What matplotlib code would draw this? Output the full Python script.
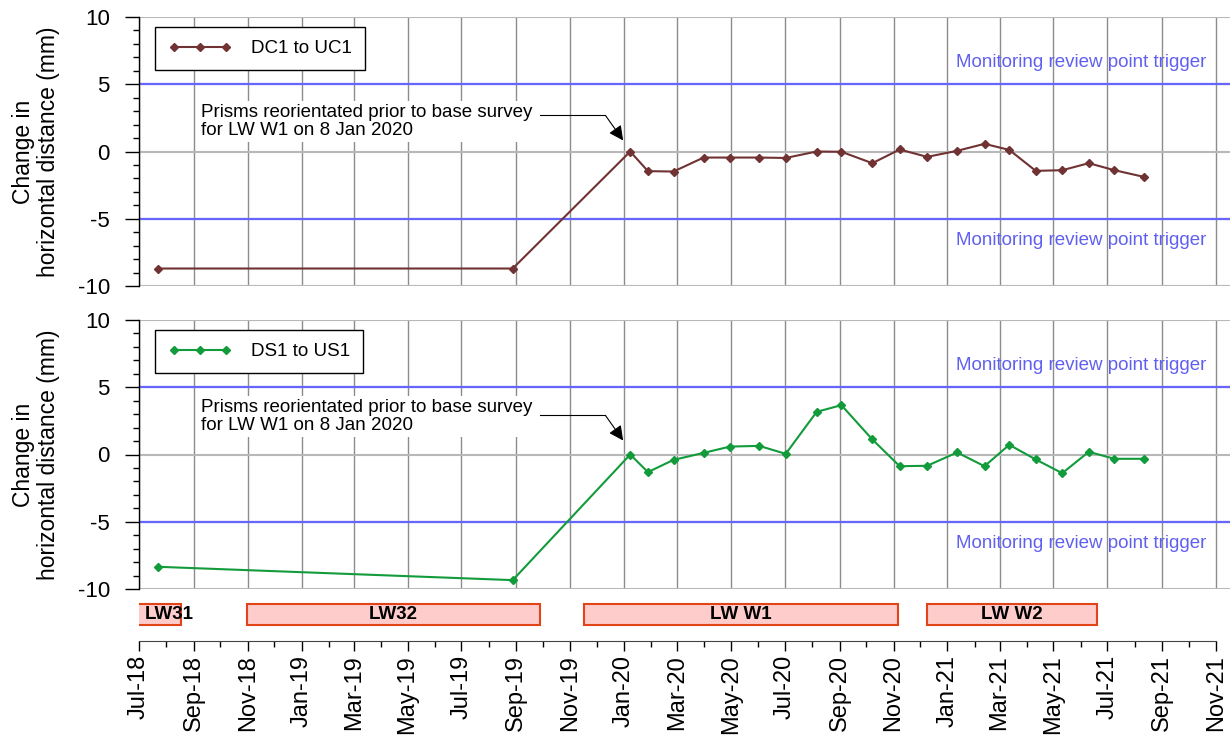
import datetime as dt
import matplotlib
matplotlib.use("Agg")
import matplotlib.pyplot as plt
import matplotlib.dates as mdates

plt.rcParams['font.family'] = ['Liberation Sans', 'DejaVu Sans']
plt.rcParams['axes.unicode_minus'] = False

# survey dates (both pairs surveyed on the same dates)
survey_dates = ["2018-07-23", "2019-08-28", "2020-01-08", "2020-01-28", "2020-02-26",
                "2020-03-31", "2020-04-30", "2020-06-02", "2020-07-02", "2020-08-06",
                "2020-09-03", "2020-10-08", "2020-11-08", "2020-12-09", "2021-01-12",
                "2021-02-12", "2021-03-12", "2021-04-11", "2021-05-11", "2021-06-10",
                "2021-07-09", "2021-08-11"]
dc1_uc1 = [-8.7, -8.7, 0.0, -1.46, -1.49, -0.45, -0.45, -0.45, -0.48, 0.0,
           -0.02, -0.87, 0.15, -0.4, 0.05, 0.57, 0.12, -1.44, -1.39, -0.87,
           -1.39, -1.88]
ds1_us1 = [-8.35, -9.34, 0.0, -1.31, -0.40, 0.12, 0.59, 0.64, 0.05, 3.17,
           3.67, 1.12, -0.87, -0.84, 0.15, -0.87, 0.72, -0.37, -1.39, 0.2,
           -0.32, -0.32]

# longwall panels
lw_names = ["LW31", "LW32", "LW W1", "LW W2"]
lw_start = ["2018-05-01", "2018-10-31", "2019-11-17", "2020-12-09"]
lw_end = ["2018-08-17", "2019-09-28", "2020-11-06", "2021-06-19"]

trigger = 5
note = "Prisms reorientated prior to base survey\nfor LW W1 on 8 Jan 2020"
trigger_label = "Monitoring review point trigger"


def d(s):
    return mdates.date2num(dt.datetime.strptime(s, "%Y-%m-%d"))


W, H = 1232, 744
fig = plt.figure(figsize=(W / 100, H / 100), dpi=100)

x0 = d("2018-07-01")
x1 = d("2021-11-01")
px_left, px_right, px_axis_end = 139, 1216, 1230
scale = (x1 - x0) / (px_right - px_left)
x1_data = x0 + scale * (px_axis_end - px_left)

dates = [d(s) for s in survey_dates]

panels = [
    (17, 286, dc1_uc1, "#703232", "DC1 to UC1", 2.68, 2.23, 0.82),
    (320, 589, ds1_us1, "#129b3b", "DS1 to US1", 2.90, 2.83, 1.04),
]

for top, bot, vals, col, lab, yline, ytext, ytip in panels:
    ax = fig.add_axes([px_left / W, 1 - bot / H, (px_axis_end - px_left) / W, (bot - top) / H])
    ax.set_xlim(x0, x1_data)
    ax.set_ylim(-10, 10)
    ax.set_yticks([-10, -5, 0, 5, 10])
    ax.set_yticks(range(-10, 11), minor=True)
    ax.xaxis.set_major_locator(mdates.MonthLocator(bymonth=[1, 3, 5, 7, 9, 11]))
    ax.tick_params(axis="x", length=0, labelbottom=False)
    ax.tick_params(axis="y", which="major", direction="out", length=10, width=1,
                   labelsize=16, pad=11)
    ax.tick_params(axis="y", which="minor", direction="out", length=4.5, width=1)
    for s in ["top", "right", "bottom"]:
        ax.spines[s].set_visible(False)
    ax.spines["left"].set_linewidth(1)
    ax.grid(axis="x", color="#8c8c8c", lw=1)
    ax.grid(axis="y", color="#b8b8b8", lw=1.5)
    ax.set_axisbelow(True)

    ax.axhline(trigger, color="#6666ff", lw=1.6, zorder=2)
    ax.axhline(-trigger, color="#6666ff", lw=1.6, zorder=2)
    xr = d("2021-10-21")
    ax.text(xr, 6.6, trigger_label, color="#6060f0", fontsize=13.5, ha="right", va="center")
    ax.text(xr, -6.6, trigger_label, color="#6060f0", fontsize=13.5, ha="right", va="center")

    ax.plot(dates, vals, color=col, lw=1.5, marker="D", markersize=4, label=lab, zorder=4)

    leg = ax.legend(loc="upper left", bbox_to_anchor=(0.0147, 0.963), borderaxespad=0,
                    fontsize=13.5, numpoints=3, handlelength=3.4, handletextpad=1.0,
                    fancybox=False, framealpha=1, edgecolor="black", borderpad=0.7)
    leg.get_frame().set_linewidth(1)

    ax.text(d("2018-09-09"), ytext, note, fontsize=13.5, ha="left", va="center",
            linespacing=1.05, zorder=5,
            bbox=dict(facecolor="white", edgecolor="none", pad=2))
    ax.plot([d("2019-09-28"), d("2019-12-11")], [yline, yline], color="black", lw=0.8, zorder=5)
    ax.annotate("", xy=(d("2019-12-31"), ytip), xytext=(d("2019-12-11"), yline),
                arrowprops=dict(arrowstyle="-|>", color="black", lw=0.8,
                                mutation_scale=22, shrinkA=0, shrinkB=0), zorder=5)

    fig.text(36 / W, 1 - (top + bot) / 2 / H, "Change in\nhorizontal distance (mm)",
             rotation=90, ha="center", va="center", multialignment="center",
             fontsize=16.5, linespacing=1.15)

# longwall timeline axis
axb = fig.add_axes([px_left / W, 1 - 641 / H, (px_right - px_left) / W, 46 / H])
axb.set_xlim(x0, x1)
axb.set_ylim(0, 1)
for s in ["top", "right", "left"]:
    axb.spines[s].set_visible(False)
axb.spines["bottom"].set_color("#444444")
axb.set_yticks([])
axb.xaxis.set_major_locator(mdates.MonthLocator(bymonth=[1, 3, 5, 7, 9, 11]))
axb.xaxis.set_minor_locator(mdates.MonthLocator())
axb.xaxis.set_major_formatter(mdates.DateFormatter("%b-%y"))
axb.tick_params(axis="x", which="major", length=7, width=1, labelsize=17,
                labelrotation=90, pad=3)
axb.tick_params(axis="x", which="minor", length=4.5, width=1)

for name, s, e in zip(lw_names, lw_start, lw_end):
    a, b = d(s), d(e)
    axb.barh(0.575, b - a, left=a, height=0.45, color="#ffcccc",
             edgecolor="#e04418", lw=1.5)
    if a < x0:
        axb.text(x0 + 6 * scale, 0.575, name, ha="left", va="center", fontsize=13.5,
                 fontweight="bold", clip_on=False)
    else:
        axb.text((a + b) / 2, 0.575, name, ha="center", va="center", fontsize=13.5,
                 fontweight="bold", clip_on=False)

fig.savefig("out.png", dpi=100)
